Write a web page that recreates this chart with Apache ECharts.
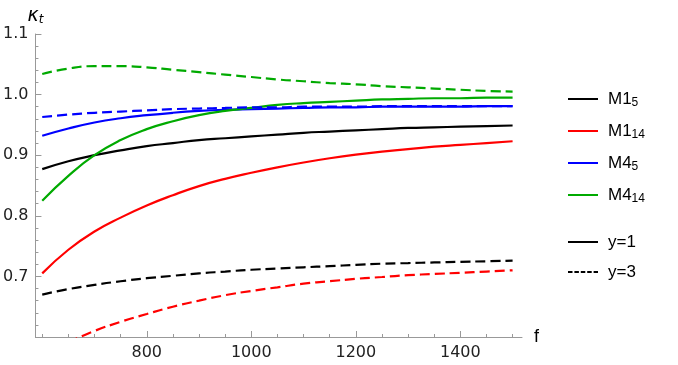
<!DOCTYPE html>
<html>
<head>
<meta charset="utf-8">
<script src="https://cdn.jsdelivr.net/npm/echarts@6/dist/echarts.min.js"></script>
<style>
  html, body { margin: 0; padding: 0; background: #fff; }
  #chart { width: 678px; height: 365px; }
</style>
</head>
<body>
<div id="chart"></div>
<script>
// frequency f
var fValues = [600, 650, 700, 750, 800, 850, 900, 950, 1000, 1050, 1100, 1150, 1200, 1250, 1300, 1350, 1400, 1450, 1500];

// y = 1 (solid)
var m1_5_y1  = [0.877, 0.890, 0.900, 0.908, 0.915, 0.920, 0.925, 0.928, 0.931, 0.934, 0.937, 0.939, 0.941, 0.943, 0.945, 0.946, 0.947, 0.948, 0.949];
var m1_14_y1 = [0.705, 0.744, 0.774, 0.797, 0.817, 0.834, 0.849, 0.861, 0.871, 0.880, 0.888, 0.895, 0.901, 0.906, 0.910, 0.914, 0.917, 0.920, 0.923];
var m4_5_y1  = [0.932, 0.944, 0.954, 0.961, 0.966, 0.970, 0.973, 0.975, 0.976, 0.977, 0.978, 0.979, 0.979, 0.980, 0.980, 0.980, 0.980, 0.981, 0.981];
var m4_14_y1 = [0.825, 0.866, 0.900, 0.925, 0.943, 0.956, 0.966, 0.973, 0.978, 0.983, 0.986, 0.988, 0.990, 0.992, 0.993, 0.994, 0.994, 0.995, 0.995];

// y = 3 (dashed)
var m1_5_y3  = [0.670, 0.679, 0.686, 0.692, 0.697, 0.701, 0.705, 0.708, 0.711, 0.713, 0.715, 0.717, 0.719, 0.721, 0.722, 0.723, 0.724, 0.725, 0.726];
var m1_14_y3 = [null, 0.591, 0.610, 0.625, 0.638, 0.650, 0.660, 0.669, 0.676, 0.682, 0.688, 0.692, 0.696, 0.699, 0.702, 0.704, 0.706, 0.708, 0.710];
var m4_5_y3  = [0.963, 0.967, 0.970, 0.972, 0.974, 0.976, 0.977, 0.978, 0.979, 0.979, 0.980, 0.980, 0.980, 0.981, 0.981, 0.981, 0.981, 0.981, 0.981];
var m4_14_y3 = [1.034, 1.043, 1.047, 1.047, 1.045, 1.041, 1.037, 1.033, 1.029, 1.025, 1.022, 1.019, 1.017, 1.014, 1.012, 1.010, 1.008, 1.006, 1.005];

var xTickLabels = [800, 1000, 1200, 1400];
var yTickLabels = [0.7, 0.8, 0.9, 1.0, 1.1];

var legendNames = { 'M1_5': 'M1{s|5}', 'M1_14': 'M1{s|14}', 'M4_5': 'M4{s|5}', 'M4_14': 'M4{s|14}', 'y=1': 'y=1', 'y=3': 'y=3' };
var colors = { M1_5: '#000000', M1_14: '#ff0000', M4_5: '#0000ff', M4_14: '#00aa00' };

var solidIcon = 'path://M0,0h30v2h-30z';
var dashIcon = 'path://M0,0h4.5v2h-4.5z M6.4,0h4.5v2h-4.5z M12.8,0h4.5v2h-4.5z M19.2,0h4.5v2h-4.5z M25.6,0h4.4v2h-4.4z';

function pairs(ys) {
    return fValues.map(function (f, i) { return [f, ys[i]]; });
}

function minorList(from, to, step) {
    var out = [];
    for (var v = from; v <= to + step / 2; v += step) out.push(+v.toFixed(3));
    return out;
}

function lineSeries(name, key, ys, dashed) {
    return {
        name: name,
        type: 'line',
        smooth: 0.5,
        showSymbol: false,
        symbol: 'none',
        clip: true,
        data: pairs(ys),
        lineStyle: { color: colors[key], width: 2.2, type: dashed ? [10, 5] : 'solid' },
        itemStyle: { color: colors[key] },
        emphasis: { disabled: true }
    };
}

var axisGray = '#999';
var tickFont = { fontFamily: 'DejaVu Sans', fontSize: 16, color: '#222' };

var chart = echarts.init(document.getElementById('chart'));
chart.setOption({
    animation: false,
    grid: { left: 34, right: 156, top: 34, bottom: 28 },
    xAxis: [
        {
            type: 'value', min: 587, max: 1518,
            name: 'f', nameLocation: 'end', nameGap: 12,
            nameTextStyle: { fontFamily: 'Liberation Sans', fontSize: 18, color: '#000' },
            axisLine: { show: true, lineStyle: { color: axisGray, width: 1 } },
            axisTick: { show: true, inside: true, length: 6, lineStyle: { color: axisGray }, customValues: xTickLabels },
            axisLabel: Object.assign({ margin: 8, customValues: xTickLabels, formatter: function (v) { return String(v); } }, tickFont),
            splitLine: { show: false }
        },
        {
            type: 'value', min: 587, max: 1518, position: 'bottom',
            axisLine: { show: false },
            axisTick: { show: true, inside: true, length: 3, lineStyle: { color: axisGray }, customValues: minorList(600, 1500, 50) },
            axisLabel: { show: false },
            splitLine: { show: false }
        }
    ],
    yAxis: [
        {
            type: 'value', min: 0.6, max: 1.1,
            name: '{k|κ}{t|t}', nameLocation: 'end', nameGap: 6,
            nameTextStyle: {
                rich: {
                    k: { fontFamily: 'DejaVu Sans', fontSize: 19, fontStyle: 'italic', color: '#000', lineHeight: 20 },
                    t: { fontFamily: 'DejaVu Sans', fontSize: 12, fontStyle: 'italic', color: '#000', lineHeight: 8, verticalAlign: 'bottom' }
                }
            },
            axisLine: { show: true, lineStyle: { color: axisGray, width: 1 } },
            axisTick: { show: true, inside: true, length: 6, lineStyle: { color: axisGray }, customValues: yTickLabels },
            axisLabel: Object.assign({ margin: 7, customValues: yTickLabels, formatter: function (v) { return v.toFixed(1); } }, tickFont),
            splitLine: { show: false }
        },
        {
            type: 'value', min: 0.6, max: 1.1, position: 'left',
            axisLine: { show: false },
            axisTick: { show: true, inside: true, length: 3, lineStyle: { color: axisGray }, customValues: minorList(0.6, 1.1, 0.02) },
            axisLabel: { show: false },
            splitLine: { show: false }
        }
    ],
    legend: [
        {
            data: [
                { name: 'M1_5', icon: solidIcon },
                { name: 'M1_14', icon: solidIcon },
                { name: 'M4_5', icon: solidIcon },
                { name: 'M4_14', icon: solidIcon }
            ],
            orient: 'vertical', left: 563, top: 84, itemGap: 12,
            itemWidth: 30, itemHeight: 2,
            formatter: function (n) { return legendNames[n]; },
            textStyle: {
                fontFamily: 'Liberation Sans', fontSize: 17, color: '#000', lineHeight: 20, padding: [0, 0, 0, 5],
                rich: { s: { fontFamily: 'Liberation Sans', fontSize: 12, color: '#000', lineHeight: 8, verticalAlign: 'bottom' } }
            },
            selectedMode: false
        },
        {
            data: [
                { name: 'y=1', icon: solidIcon },
                { name: 'y=3', icon: dashIcon }
            ],
            orient: 'vertical', left: 563, top: 227, itemGap: 10,
            itemWidth: 30, itemHeight: 2,
            textStyle: { fontFamily: 'Liberation Sans', fontSize: 17, color: '#000', lineHeight: 20, padding: [0, 0, 0, 5] },
            selectedMode: false
        }
    ],
    series: [
        lineSeries('M1_5', 'M1_5', m1_5_y1, false),
        lineSeries('M1_14', 'M1_14', m1_14_y1, false),
        lineSeries('M4_5', 'M4_5', m4_5_y1, false),
        lineSeries('M4_14', 'M4_14', m4_14_y1, false),
        lineSeries('M1_5 y3', 'M1_5', m1_5_y3, true),
        lineSeries('M1_14 y3', 'M1_14', m1_14_y3, true),
        lineSeries('M4_5 y3', 'M4_5', m4_5_y3, true),
        lineSeries('M4_14 y3', 'M4_14', m4_14_y3, true),
        { name: 'y=1', type: 'line', symbol: 'none', data: [], lineStyle: { color: '#000', width: 2 }, itemStyle: { color: '#000' } },
        { name: 'y=3', type: 'line', symbol: 'none', data: [], lineStyle: { color: '#000', width: 2, type: [6, 4] }, itemStyle: { color: '#000' } }
    ]
});
</script>
</body>
</html>
